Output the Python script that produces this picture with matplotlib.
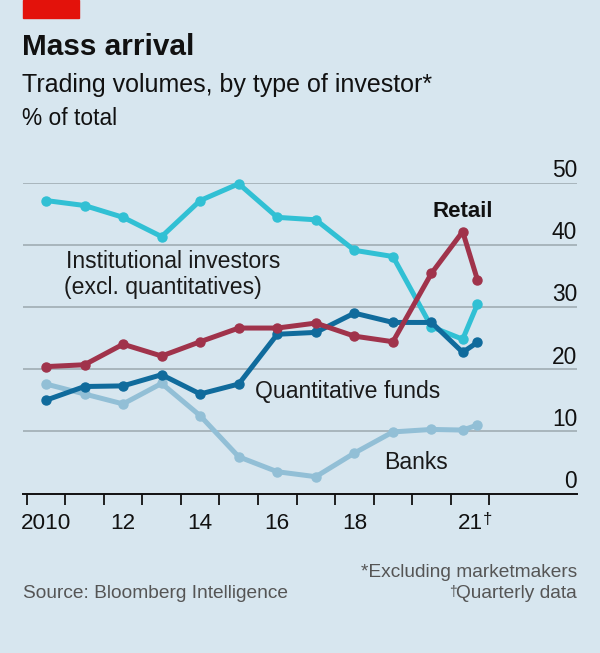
import matplotlib
matplotlib.use("Agg")
import matplotlib.pyplot as plt
from matplotlib import font_manager

# data (2021 points are quarterly)
years = [2010.5, 2011.5, 2012.5, 2013.5, 2014.5, 2015.5, 2016.5, 2017.5,
         2018.5, 2019.5, 2020.5, 2021.31, 2021.69]
institutional = [47.1, 46.3, 44.4, 41.3, 47.1, 49.8, 44.4, 44.0, 39.1, 38.1, 26.8, 24.8, 30.4]
retail = [20.4, 20.7, 24.0, 22.1, 24.4, 26.6, 26.6, 27.4, 25.3, 24.4, 35.4, 42.1, 34.4]
quant = [15.0, 17.2, 17.3, 19.1, 16.0, 17.6, 25.6, 25.9, 29.0, 27.5, 27.5, 22.7, 24.3]
banks = [17.6, 16.0, 14.4, 17.7, 12.5, 5.9, 3.5, 2.7, 6.5, 9.9, 10.3, 10.2, 11.0]

y_ticks = [0, 10, 20, 30, 40, 50]
x_ticks = list(range(2010, 2023))
x_label_pos = [2010.5, 2012.5, 2014.5, 2016.5, 2018.5, 2021.5]
x_labels = ["2010", "12", "14", "16", "18", "21"]

BG = "#d7e6ef"
FONT = "Liberation Sans"
names = {f.name for f in font_manager.fontManager.ttflist}
if FONT not in names:
    FONT = "DejaVu Sans"
plt.rcParams["font.family"] = [FONT, "DejaVu Sans"]

W, H = 600, 653
fig = plt.figure(figsize=(W / 100, H / 100), dpi=100, facecolor=BG)


def fx(px):
    return px / W


def fy(py):
    return 1 - py / H


# red tag + headings
fig.patches.append(plt.Rectangle((fx(23), fy(18)), fx(79) - fx(23), fy(0) - fy(18),
                                 transform=fig.transFigure, color="#e3120b", zorder=5))
fig.text(fx(22), fy(55), "Mass arrival", fontsize=21.4, fontweight="bold", color="#111111",
         va="baseline")
fig.text(fx(22), fy(92), "Trading volumes, by type of investor*", fontsize=18, color="#111111",
         va="baseline")
fig.text(fx(22), fy(125), "% of total", fontsize=16.4, color="#111111", va="baseline")

x0, x1 = 2009.904, 2024.275
ax = fig.add_axes([fx(23), fy(493.5), fx(577) - fx(23), fy(182.5) - fy(493.5)])
ax.set_facecolor(BG)
ax.set_xlim(x0, x1)
ax.set_ylim(0, 50)
for s in ["top", "left", "right"]:
    ax.spines[s].set_visible(False)
ax.spines["bottom"].set_color("#111111")
ax.spines["bottom"].set_linewidth(1.4)
ax.spines["bottom"].set_zorder(6)

for v in y_ticks[1:]:
    ax.axhline(v, color="#a5b1b8", lw=1.3, zorder=1)
for v in y_ticks:
    ax.text(1.0, v + 0.9, str(v), transform=ax.get_yaxis_transform(), ha="right",
            va="baseline", fontsize=16.4, color="#111111")

ax.set_yticks([])
ax.set_xticks(x_ticks)
ax.set_xticklabels([])
ax.tick_params(axis="x", which="major", length=8, width=1.3, color="#111111", direction="out")
ax.set_xticks(x_label_pos, minor=True)
ax.set_xticklabels(x_labels, minor=True)
ax.tick_params(axis="x", which="minor", length=0, pad=14, labelsize=16.2, labelcolor="#111111")

series = [(banks, "#92bfd6"), (institutional, "#31c0d4"), (quant, "#106b9c"), (retail, "#a0334b")]
for i, (vals, col) in enumerate(series):
    ax.plot(years, vals, color=col, lw=3.6, marker="o", ms=6.5, solid_joinstyle="round",
            solid_capstyle="round", zorder=3 + i, clip_on=False)

# dagger after "21"
fig.canvas.draw()
lab21 = [t for t in ax.get_xticklabels(minor=True) if t.get_text() == "21"][0]
ax.annotate("†", xy=(1, 1.05), xycoords=lab21, ha="left", va="top", fontsize=12,
            color="#111111", annotation_clip=False)

# series labels
lab_kw = dict(fontsize=16.6, color="#1a1a1a", va="baseline")
fig.text(fx(66), fy(268), "Institutional investors", **lab_kw)
fig.text(fx(64), fy(294), "(excl. quantitatives)", **lab_kw)
fig.text(fx(255), fy(398), "Quantitative funds", **lab_kw)
fig.text(fx(384), fy(469), "Banks", **lab_kw)
fig.text(fx(433), fy(217), "Retail", fontsize=16, fontweight="bold", color="#111111",
         va="baseline")

# footnotes
note_kw = dict(fontsize=13.8, color="#555555", va="baseline")
fig.text(fx(577), fy(577), "*Excluding marketmakers", ha="right", **note_kw)
q = fig.text(fx(577), fy(598), "Quarterly data", ha="right", **note_kw)
fig.text(fx(23), fy(598), "Source: Bloomberg Intelligence", ha="left", **note_kw)
fig.canvas.draw()
ax.annotate("†", xy=(0, 1.02), xycoords=q, ha="right", va="top", fontsize=10, color="#555555",
            annotation_clip=False)

fig.savefig("out.png", dpi=100, facecolor=BG)
